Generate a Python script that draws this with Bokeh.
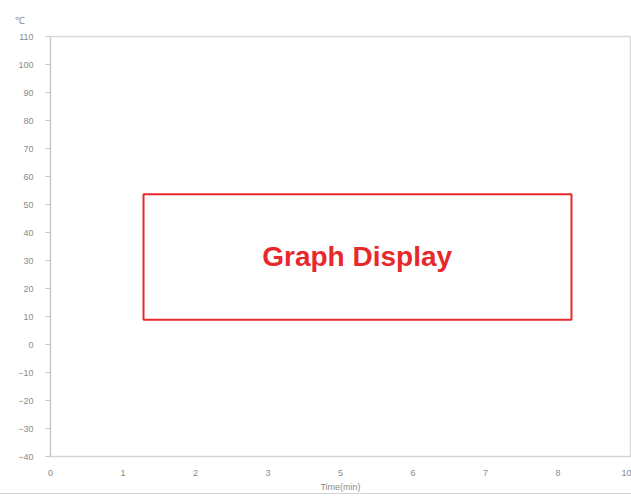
from bokeh.plotting import figure
from bokeh.models import Range1d, FixedTicker, BoxAnnotation, Label
from bokeh.embed import file_html
from bokeh.resources import INLINE

# ---- data (axis definitions) ----
y_unit = "℃"
x_title = "Time(min)"
y_ticks = [-40, -30, -20, -10, 0, 10, 20, 30, 40, 50, 60, 70, 80, 90, 100, 110]
x_positions = [0, 1, 2, 3, 4, 5, 6, 7, 8]
x_tick_labels = ["0", "1", "2", "3", "5", "6", "7", "8", "10"]
placeholder_text = "Graph Display"

FONT = "Liberation Sans"
GRAY = "#8a8a8a"
RED = "#e8292b"

p = figure(width=631, height=494, output_backend="svg", toolbar_location=None,
           x_range=Range1d(x_positions[0], x_positions[-1]),
           y_range=Range1d(y_ticks[0], y_ticks[-1]),
           min_border_left=50, min_border_right=1, min_border_top=36, min_border_bottom=37)
p.styles = {"border-bottom": "1px solid #d4d4d4"}

p.title.text = y_unit
p.title.align = "left"
p.title.offset = -36
p.title.standoff = 22
p.title.text_font = FONT
p.title.text_font_size = "10px"
p.title.text_font_style = "normal"
p.title.text_color = GRAY

p.grid.visible = False
p.outline_line_color = "#dadada"
p.outline_line_width = 1.5

# y axis
ya = p.yaxis[0]
ya.ticker = FixedTicker(ticks=y_ticks)
ya.axis_line_color = "#c4c4c4"
ya.major_tick_line_color = "#c4c4c4"
ya.major_tick_out = 5
ya.major_tick_in = 0
ya.minor_tick_line_color = None
ya.major_label_standoff = 12
ya.major_label_text_font = FONT
ya.major_label_text_font_size = "9px"
ya.major_label_text_color = GRAY

# x axis
xa = p.xaxis[0]
xa.ticker = FixedTicker(ticks=x_positions)
xa.major_label_overrides = {pos: lab for pos, lab in zip(x_positions, x_tick_labels)}
xa.axis_line_color = "#d4d4d4"
xa.major_tick_line_color = None
xa.major_tick_out = 0
xa.major_tick_in = 0
xa.minor_tick_line_color = None
xa.major_label_standoff = 13
xa.major_label_text_font = FONT
xa.major_label_text_font_size = "9px"
xa.major_label_text_color = GRAY
xa.axis_label = x_title
xa.axis_label_standoff = 3
xa.axis_label_text_font = FONT
xa.axis_label_text_font_size = "9px"
xa.axis_label_text_font_style = "normal"
xa.axis_label_text_color = GRAY

# placeholder box and text
box = BoxAnnotation(left=1.283, right=7.186, bottom=8.8, top=53.7,
                    fill_color=None, line_color=RED, line_alpha=1.0, line_width=2)
p.add_layout(box)
lbl = Label(x=4.23, y=31.3, text=placeholder_text, text_align="center", text_baseline="middle",
            text_font=FONT, text_font_style="bold", text_font_size="28px", text_color=RED)
p.add_layout(lbl)

open("out.html", "w").write(file_html(p, INLINE))
